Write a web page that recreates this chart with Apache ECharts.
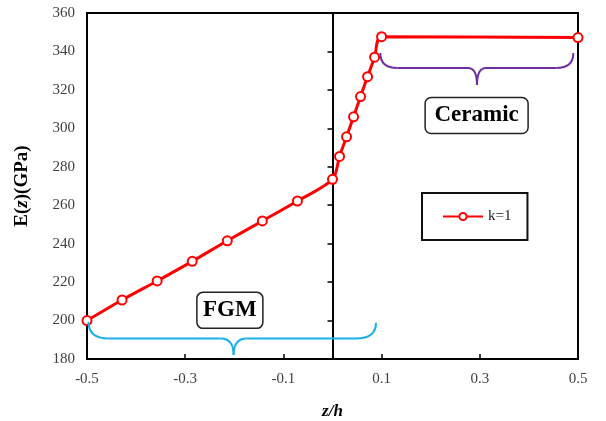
<!DOCTYPE html>
<html>
<head>
<meta charset="utf-8">
<script src="https://cdn.jsdelivr.net/npm/echarts@6/dist/echarts.min.js"></script>
<style>
  html, body { margin: 0; padding: 0; background: #fff; }
  #chart { width: 606px; height: 421px; }
</style>
</head>
<body>
<div id="chart"></div>
<script>
// Through-thickness position z/h and Young's modulus E(z) in GPa, power index k = 1
const zValues = [-0.5, -0.4286, -0.3571, -0.2857, -0.2143, -0.1429, -0.0714, 0,
                 0.0143, 0.0286, 0.0429, 0.0571, 0.0714, 0.0857, 0.1, 0.5];
const eValues = [200, 210.7, 220.6, 230.8, 241.5, 251.8, 262.2, 273.5,
                 285.4, 295.6, 306, 316.5, 326.9, 337, 347.7, 347.2];
const seriesName = 'k=1';

// Axis ranges
const xRange = { min: -0.5, max: 0.5, step: 0.2 };
const yRange = { min: 180, max: 360, step: 20 };

// Region annotations: label, brace end points, brace bar level and tip (z, E)
const fgmNote = { text: 'FGM', at: [-0.209, 205.3] };
const ceramicNote = { text: 'Ceramic', at: [0.2935, 306.7] };
const fgmBrace = { from: [-0.497, 199.4], to: [0.0886, 198.9], bar: 190.7, tip: [-0.2014, 182.1] };
const ceramicBrace = { from: [0.0974, 339.2], to: [0.4905, 339.2], bar: 331.4, tip: [0.2943, 322.5] };

const SERIF = '"Liberation Serif", "Times New Roman", serif';
const chart = echarts.init(document.getElementById('chart'), null, { renderer: 'canvas' });

chart.setOption({
  animation: false,
  backgroundColor: '#fff',
  grid: {
    left: 87, right: 28, top: 13, bottom: 62,
    containLabel: false, outerBoundsMode: 'none',
    show: true, borderColor: '#000', borderWidth: 2, backgroundColor: 'transparent'
  },
  legend: {
    data: [seriesName],
    left: 422, top: 193,
    padding: [16, 16, 16, 20],
    borderColor: '#111', borderWidth: 2, backgroundColor: '#fff',
    itemWidth: 40, itemHeight: 9, itemGap: 0,
    textStyle: { fontFamily: SERIF, fontSize: 15, color: '#222' }
  },
  xAxis: {
    type: 'value',
    min: xRange.min, max: xRange.max, interval: xRange.step,
    axisLine: { onZero: false, lineStyle: { color: '#000', width: 2 } },
    axisTick: { inside: true, length: 5, lineStyle: { color: '#000', width: 1.5 } },
    axisLabel: {
      margin: 13, fontFamily: SERIF, fontSize: 15, color: '#404040',
      formatter: v => v.toFixed(1)
    },
    splitLine: { show: false },
    name: 'z/h', nameLocation: 'middle', nameGap: 44,
    nameTextStyle: { fontFamily: SERIF, fontSize: 17, fontWeight: 'bold', fontStyle: 'italic', color: '#000' }
  },
  yAxis: [
    {
      type: 'value', position: 'left',
      min: yRange.min, max: yRange.max, interval: yRange.step,
      axisLine: { onZero: false, lineStyle: { color: '#000', width: 2 } },
      axisTick: { show: false },
      axisLabel: { margin: 12, fontFamily: SERIF, fontSize: 15, color: '#404040' },
      splitLine: { show: false },
      name: 'E({i|z})(GPa)', nameLocation: 'middle', nameGap: 55,
      nameTextStyle: {
        fontFamily: SERIF, fontSize: 19, fontWeight: 'bold', color: '#000',
        rich: { i: { fontFamily: SERIF, fontSize: 19, fontWeight: 'bold', fontStyle: 'italic', color: '#000' } }
      }
    },
    {
      // vertical axis line crossing at z/h = 0
      type: 'value', position: 'left',
      min: yRange.min, max: yRange.max, interval: yRange.step,
      axisLine: { onZero: true, lineStyle: { color: '#000', width: 2 } },
      axisTick: { show: true, inside: false, length: 5, lineStyle: { color: '#000', width: 1.5 } },
      axisLabel: { show: false },
      splitLine: { show: false }
    }
  ],
  series: [{
    name: seriesName,
    type: 'line',
    xAxisIndex: 0, yAxisIndex: 0,
    data: zValues.map((z, i) => [z, eValues[i]]),
    smooth: 0.3,
    symbol: 'emptyCircle', symbolSize: 9,
    lineStyle: { color: '#ff0000', width: 3 },
    itemStyle: { color: '#ff0000', borderWidth: 1.5 },
    z: 5
  }]
});

const px = p => chart.convertToPixel({ xAxisIndex: 0, yAxisIndex: 0 }, p);

// A curly brace built from quadratic curves and straight runs
function braceParts(b, rEnd, rMid, color) {
  const a = px(b.from), c = px(b.to), t = px(b.tip);
  const hy = px([b.from[0], b.bar])[1];
  const style = { fill: 'none', stroke: color, lineWidth: 2 };
  const curve = (x1, y1, cx, cy, x2, y2) => ({
    type: 'bezierCurve', z: 10, silent: true, style,
    shape: { x1, y1, x2, y2, cpx1: cx, cpy1: cy }
  });
  const run = (x1, x2) => ({
    type: 'line', z: 10, silent: true, style,
    shape: { x1, y1: hy, x2, y2: hy }
  });
  return [
    curve(a[0], a[1], a[0], hy, a[0] + rEnd, hy),
    run(a[0] + rEnd, t[0] - rMid),
    curve(t[0] - rMid, hy, t[0], hy, t[0], t[1]),
    curve(t[0], t[1], t[0], hy, t[0] + rMid, hy),
    run(t[0] + rMid, c[0] - rEnd),
    curve(c[0] - rEnd, hy, c[0], hy, c[0], c[1])
  ];
}

function noteBox(note, w, h) {
  const c = px(note.at);
  return {
    type: 'group', x: c[0], y: c[1], z: 20,
    children: [
      { type: 'rect', shape: { x: -w / 2, y: -h / 2, width: w, height: h, r: 6 },
        style: { fill: '#fff', stroke: '#222', lineWidth: 1.5 } },
      { type: 'text', x: 0, y: 0,
        style: { text: note.text, fill: '#000', font: 'bold 23px ' + SERIF, align: 'center', verticalAlign: 'middle' } }
    ]
  };
}

chart.setOption({
  graphic: [
    ...braceParts(fgmBrace, 20, 13, '#1ab0e8'),
    ...braceParts(ceramicBrace, 17, 9, '#7030a0'),
    noteBox(fgmNote, 66, 36),
    noteBox(ceramicNote, 103, 36)
  ]
});
</script>
</body>
</html>
